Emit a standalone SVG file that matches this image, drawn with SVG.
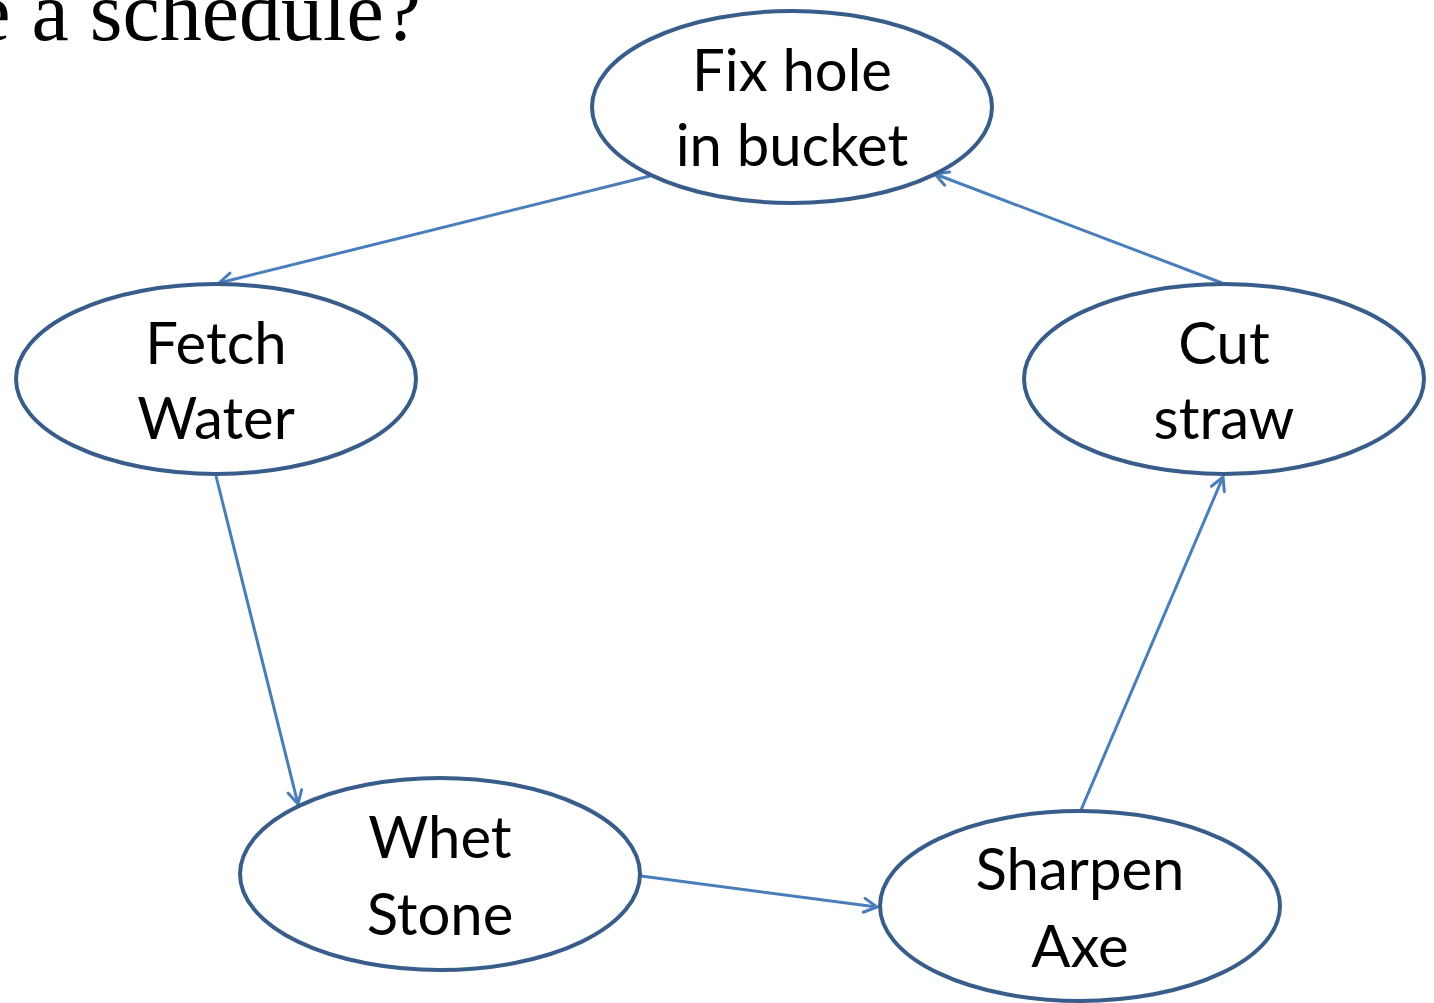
<svg xmlns="http://www.w3.org/2000/svg" width="1434" height="1003" viewBox="0 0 1434 1003">
<defs>
<style>
.node ellipse{fill:#ffffff;stroke:#385D8A;stroke-width:4}
.node text{font-family:Lato,"Liberation Sans",sans-serif;font-size:58px;fill:#000;text-anchor:middle}
.edge{stroke:#4A7EBB;stroke-width:3;fill:none}
.title{font-family:"Liberation Serif",serif;font-size:84px;fill:#000;text-anchor:end}
</style>
<marker id="arr" markerUnits="userSpaceOnUse" markerWidth="30" markerHeight="30" refX="0" refY="0" orient="auto" viewBox="-15 -15 30 30" overflow="visible">
<path d="M-13,-7 L0,0 L-13,7" fill="none" stroke="#4A7EBB" stroke-width="3" stroke-linecap="round" stroke-linejoin="round"/>
</marker>
</defs>
<rect width="1434" height="1003" fill="#ffffff"/>
<text class="title" x="421" y="40">e a schedule?</text>
<g id="connectors">
<line class="edge" x1="650" y1="176" x2="219" y2="283" marker-end="url(#arr)"/>
<line class="edge" x1="216" y1="476" x2="298" y2="804" marker-end="url(#arr)"/>
<line class="edge" x1="641" y1="876" x2="877" y2="907" marker-end="url(#arr)"/>
<line class="edge" x1="1081" y1="810" x2="1223" y2="477" marker-end="url(#arr)"/>
<line class="edge" x1="1222" y1="283" x2="935" y2="174" marker-end="url(#arr)"/>
</g>
<g id="node-fix" class="node">
<ellipse cx="792" cy="107" rx="200" ry="96"/>
<text x="792" y="91">Fix hole</text>
<text x="792" y="166">in bucket</text>
</g>
<g id="node-fetch" class="node">
<ellipse cx="216" cy="379" rx="200" ry="95"/>
<text x="216" y="364">Fetch</text>
<text x="216" y="439">Water</text>
</g>
<g id="node-cut" class="node">
<ellipse cx="1224" cy="379" rx="200" ry="95"/>
<text x="1224" y="364">Cut</text>
<text x="1224" y="439">straw</text>
</g>
<g id="node-whet" class="node">
<ellipse cx="440" cy="874" rx="200" ry="96"/>
<text x="440" y="858">Whet</text>
<text x="440" y="935">Stone</text>
</g>
<g id="node-sharpen" class="node">
<ellipse cx="1080" cy="906" rx="200" ry="95"/>
<text x="1080" y="890">Sharpen</text>
<text x="1080" y="967">Axe</text>
</g>
</svg>
